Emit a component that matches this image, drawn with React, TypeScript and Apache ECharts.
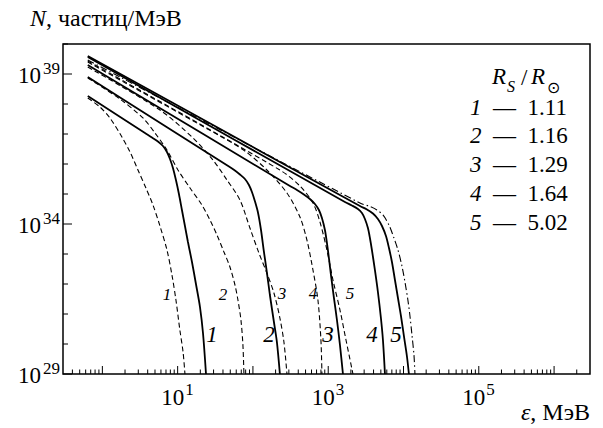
import React, { useEffect, useRef } from "react";
import * as echarts from "echarts";

// ---------------- data ----------------
const curveIds = ["1", "2", "3", "4", "5"];
const ratioValues = ["1.11", "1.16", "1.29", "1.64", "5.02"];
const legendHeading = ["R", "S", "/", "R", "⊙"];

// energy (MeV), N (particles / MeV)
const solid1 = [[0.64, 1.85e38], [3.68, 1.08e37], [4.56, 7.64e36], [5.47, 5.62e36], [6.38, 3.98e36], [7.21, 2.51e36], [7.91, 1.47e36], [8.66, 7.36e35], [9.49, 2.93e35], [10.4, 1e35], [11.4, 2.93e34], [12.5, 8.58e33], [13.7, 2.51e33], [15.5, 5.41e32], [17.5, 1e32], [19.8, 1.71e31], [21.7, 2.33e30], [23.8, 1e29]];
const solid2 = [[0.64, 7.94e38], [46.9, 8.58e35], [56.4, 6.31e35], [67.2, 4.47e35], [78.3, 3.16e35], [88.5, 2.0e35], [97, 1.17e35], [106, 5.85e34], [117, 2.33e34], [128, 6.31e33], [140, 1.17e33], [153, 2.51e32], [168, 4.3e31], [190, 5.41e30], [208, 1.17e30], [228, 1e29]];
const solid3 = [[0.64, 2.0e39], [310, 1.85e35], [384, 1.36e35], [475, 9.62e34], [571, 6.81e34], [666, 4.64e34], [752, 2.93e34], [825, 1.58e34], [904, 6.31e33], [961, 2.33e33], [1021, 7.36e32], [1087, 2.0e32], [1191, 3.42e31], [1306, 6.31e30], [1432, 9.26e29], [1569, 1e29]];
const solid4 = [[0.64, 3.69e39], [1667, 5.41e34], [2065, 4.14e34], [2481, 3.16e34], [2805, 2.33e34], [3074, 1.47e34], [3368, 7.36e33], [3580, 3.42e33], [3805, 1.36e33], [4169, 2.93e32], [4571, 5.41e31], [5011, 7.36e30], [5331, 1.36e30], [5669, 1e29]];
const solid5 = [[0.64, 3.98e39], [2637, 3.98e34], [3268, 3.04e34], [3926, 2.24e34], [4571, 1.47e34], [5176, 8.58e33], [5848, 3.98e33], [6412, 1.58e33], [7022, 5.41e32], [7697, 1.36e32], [8439, 3.42e31], [9253, 8.58e30], [10120, 1.85e30], [11090, 3.98e29], [11800, 1e29]];

const dashed1 = [[0.64, 1.58e38], [0.93, 7.94e37], [1.26, 3.42e37], [1.82, 7.94e36], [2.33, 2.51e36], [2.97, 6.31e35], [3.79, 1.58e35], [4.7, 4.3e34], [5.82, 8.58e33], [7.21, 1.36e33], [8.4, 2.0e32], [9.49, 2.93e31], [10.7, 2.93e30], [11.8, 5.41e29], [12.5, 1e29]];
const dashed2 = [[0.64, 7.36e38], [1.71, 1.47e38], [3.46, 3.42e37], [5.0, 1.08e37], [7.21, 2.93e36], [10.1, 6.31e35], [14.6, 1.58e35], [21.0, 4.3e34], [26.9, 1.36e34], [33.3, 4.3e33], [41.2, 1.17e33], [49.5, 3.69e32], [57.7, 9.26e31], [63.2, 2.93e31], [69.3, 6.31e30], [73.6, 9.26e29], [75.9, 1e29]];
const dashed3 = [[0.64, 1.71e39], [5.82, 6.31e37], [16.0, 7.36e36], [29.4, 1.36e36], [45.2, 2.93e35], [67.2, 6.31e34], [91.2, 7.36e33], [120, 1.08e33], [153, 2.33e32], [190, 5.01e31], [228, 7.36e30], [258, 1.17e30], [283, 1e29]];
const dashed4 = [[0.64, 2.51e39], [36.5, 8.58e36], [78.3, 2.71e36], [153, 6.31e35], [283, 1.08e35], [421, 1.71e34], [521, 2.93e33], [627, 2.93e32], [730, 2.93e31], [800, 1.36e30], [825, 1e29]];
const dashed5 = [[0.64, 2.71e39], [228, 6.31e35], [421, 1.85e35], [627, 5.01e34], [776, 1.17e34], [961, 1.36e33], [1156, 1.36e32], [1432, 1.36e31], [1722, 1.36e30], [2130, 1e29]];

const dashDot = [[0.64, 2.93e39], [2637, 5.01e34], [3580, 3.83e34], [4434, 2.93e34], [5331, 2.0e34], [6412, 9.26e33], [7464, 3.42e33], [8439, 1.36e33], [9531, 3.98e32], [10450, 1.17e32], [11430, 2.93e31], [12180, 8.58e30], [12950, 2.0e30], [13770, 4.3e29], [14190, 1e29]];

const solidCurves = [solid1, solid2, solid3, solid4, solid5];
const dashedCurves = [dashed1, dashed2, dashed3, dashed4, dashed5];

const X_MIN = 0.3;
const X_MAX = 3e6;
const Y_MIN = 1e29;
const Y_MAX = 1e40;

const xTickDecades = [0.1, 1, 10, 100, 1e3, 1e4, 1e5, 1e6];
const xTickMultipliers = [1, 2, 3, 4, 5, 6, 7, 8, 9];
const xLabelValues = [10, 1e3, 1e5];
const xLabelExponents = ["1", "3", "5"];
const yTickValues = [1e29, 1e30, 1e31, 1e32, 1e33, 1e34, 1e35, 1e36, 1e37, 1e38, 1e39, 1e40];
const yLabelValues = [1e29, 1e34, 1e39];
const yLabelExponents = ["29", "34", "39"];

const yTitle = ["N", ", частиц/МэВ"];
const xTitle = ["ε", ", МэВ"];

// ---------------- styling ----------------
const FAMILY = "Liberation Serif";
const txt = (size: number, italic = false) => ({
  fontFamily: FAMILY,
  fontSize: size,
  fontStyle: italic ? "italic" : "normal",
  fontWeight: "normal",
});
const INK = "#000";

export default function App() {
  const ref = useRef<HTMLDivElement>(null);

  useEffect(() => {
    if (!ref.current) return;
    const chart = echarts.init(ref.current, null, { renderer: "svg" });

    const xTicks: number[][] = [];
    xTickDecades.forEach((d) =>
      xTickMultipliers.forEach((m) => {
        const v = d * m;
        if (v > X_MIN * 1.01 && v < X_MAX * 0.99) xTicks.push([v, Y_MIN, m === 1 ? 1 : 0]);
      })
    );

    const lineBase = { type: "line", symbol: "none", showSymbol: false, smooth: 0.3, silent: true };
    const curveSeries: any[] = [];
    dashedCurves.forEach((c, i) =>
      curveSeries.push({ ...lineBase, name: "d" + curveIds[i], data: c, z: 2, lineStyle: { color: INK, width: 1.1, type: [5, 3] } })
    );
    curveSeries.push({ ...lineBase, name: "dd", data: dashDot, z: 2, lineStyle: { color: INK, width: 1.1, type: [7, 3, 1.5, 3] } });
    solidCurves.forEach((c, i) =>
      curveSeries.push({ ...lineBase, name: "s" + curveIds[i], data: c, z: 3, lineStyle: { color: INK, width: 1.8 } })
    );

    const xTickSeries = {
      type: "custom", silent: true, z: 5,
      data: xTicks,
      renderItem: (params: any, api: any) => {
        const p = api.coord([api.value(0), api.value(1)]);
        const len = api.value(2) ? 8 : 4.5;
        return { type: "line", shape: { x1: p[0], y1: p[1], x2: p[0], y2: p[1] - len }, style: { stroke: INK, lineWidth: 1 } };
      },
    };
    const yTickSeries = {
      type: "custom", silent: true, z: 5,
      data: yTickValues.map((v) => [X_MIN, v, yLabelValues.includes(v) ? 1 : 0]),
      renderItem: (params: any, api: any) => {
        const p = api.coord([api.value(0), api.value(1)]);
        const len = api.value(2) ? 9 : 5;
        return { type: "line", shape: { x1: p[0], y1: p[1], x2: p[0] + len, y2: p[1] }, style: { stroke: INK, lineWidth: 1 } };
      },
    };
    const xLabelSeries = {
      type: "custom", silent: true, z: 5,
      data: xLabelValues.map((v) => [v, Y_MIN]),
      renderItem: (params: any, api: any) => {
        const p = api.coord([api.value(0), api.value(1)]);
        const exp = xLabelExponents[params.dataIndex];
        const supW = 9 * exp.length;
        const left = p[0] - (23 + 1 + supW) / 2;
        return {
          type: "group",
          children: [
            { type: "text", x: left, y: p[1] + 23, style: { text: "10", ...txt(23), fill: INK, align: "left", verticalAlign: "middle" } },
            { type: "text", x: left + 24, y: p[1] + 15, style: { text: exp, ...txt(17), fill: INK, align: "left", verticalAlign: "middle" } },
          ],
        };
      },
    };
    const yLabelSeries = {
      type: "custom", silent: true, z: 5,
      data: yLabelValues.map((v) => [X_MIN, v]),
      renderItem: (params: any, api: any) => {
        const p = api.coord([api.value(0), api.value(1)]);
        const exp = yLabelExponents[params.dataIndex];
        const right = p[0] - 3;
        const supW = 9 * exp.length;
        return {
          type: "group",
          children: [
            { type: "text", x: right - supW - 1, y: p[1] + 1, style: { text: "10", ...txt(23), fill: INK, align: "right", verticalAlign: "middle" } },
            { type: "text", x: right, y: p[1] - 6, style: { text: exp, ...txt(17), fill: INK, align: "right", verticalAlign: "middle" } },
          ],
        };
      },
    };

    const rich = (size: number) => ({
      i: { ...txt(size, true), fill: INK },
      r: { ...txt(size), fill: INK },
    });

    const graphics: any[] = [];
    graphics.push({
      type: "text", x: 30, y: 18,
      style: { text: `{i|${yTitle[0]}}{r|${yTitle[1]}}`, rich: rich(24), ...txt(24), fill: INK, align: "left", verticalAlign: "middle" },
    });
    graphics.push({
      type: "text", x: 590, y: 412,
      style: { text: `{i|${xTitle[0]}}{r|${xTitle[1]}}`, rich: rich(24), ...txt(24), fill: INK, align: "right", verticalAlign: "middle" },
    });
    const headPos = [[492, 76, 23, true], [507, 86, 16, true], [521, 77, 23, false], [531, 76, 23, true], [547, 87, 16, false]];
    legendHeading.forEach((t, i) => {
      const [x, y, s, it] = headPos[i] as any;
      graphics.push({ type: "text", x, y, style: { text: t, ...txt(s, it), fill: INK, align: "left", verticalAlign: "middle" } });
    });
    curveIds.forEach((id, i) => {
      graphics.push({
        type: "text", x: 470, y: 107 + i * 28.75,
        style: { text: `{i|${id}}{r|\u2002—\u2002${ratioValues[i]}}`, rich: rich(23), ...txt(23), fill: INK, align: "left", verticalAlign: "middle" },
      });
    });
    const solidLabelXY = [[212, 334], [269, 334], [328, 334], [372, 334], [396, 334]];
    const dashedLabelXY = [[167, 294], [223, 294], [282, 293], [313, 293], [350, 293]];
    curveIds.forEach((id, i) => {
      graphics.push({ type: "text", x: solidLabelXY[i][0], y: solidLabelXY[i][1], style: { text: id, ...txt(23, true), fill: INK, align: "center", verticalAlign: "middle" } });
      graphics.push({ type: "text", x: dashedLabelXY[i][0], y: dashedLabelXY[i][1], style: { text: id, ...txt(17, true), fill: INK, align: "center", verticalAlign: "middle" } });
    });

    const axisCommon = {
      type: "log", logBase: 10,
      axisLine: { show: false }, axisTick: { show: false }, axisLabel: { show: false },
      splitLine: { show: false }, minorTick: { show: false }, minorSplitLine: { show: false },
    };

    chart.setOption({
      animation: false,
      backgroundColor: "#fff",
      textStyle: { fontFamily: FAMILY },
      grid: { left: 63, right: 13, top: 44, bottom: 54, show: true, borderColor: INK, borderWidth: 1.5, backgroundColor: "transparent" },
      xAxis: { ...axisCommon, min: X_MIN, max: X_MAX },
      yAxis: { ...axisCommon, min: Y_MIN, max: Y_MAX },
      series: [...curveSeries, xTickSeries, yTickSeries, xLabelSeries, yLabelSeries],
      graphic: graphics,
    });

    return () => chart.dispose();
  }, []);

  return <div ref={ref} style={{ position: "absolute", left: 0, top: 0, width: 603, height: 428, background: "#fff" }} />;
}
